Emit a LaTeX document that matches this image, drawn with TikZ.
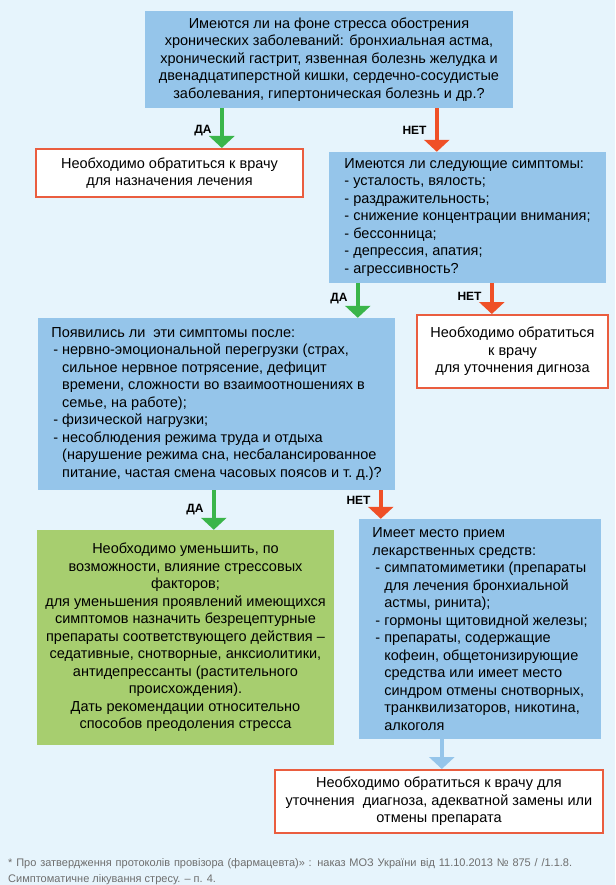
\documentclass[tikz,border=0pt]{standalone}
\usepackage{fontspec}
\setmainfont{Liberation Sans}
\usetikzlibrary{arrows.meta}
\definecolor{bgblue}{HTML}{E6F4FC}
\definecolor{qblue}{HTML}{95C5EA}
\definecolor{ggreen}{HTML}{A7CE6F}
\definecolor{yesgreen}{HTML}{3AB54A}
\definecolor{nored}{HTML}{EF5027}
\definecolor{rborder}{HTML}{EA5D3F}
\definecolor{notegray}{HTML}{6E6E6E}
\newcommand{\boxfont}{\fontsize{14.5}{17.5}\selectfont}
\newcommand{\indt}{\phantom{- }}
\tikzstyle{qbox} = [fill=qblue, inner sep=0pt, align=left, font=\boxfont]
\tikzstyle{gbox} = [fill=ggreen, inner sep=0pt, align=center, font=\boxfont]
\tikzstyle{rbox} = [draw=rborder, line width=2pt, fill=white, inner sep=0pt, align=center, font=\boxfont]
\tikzstyle{yesarrow} = [yesgreen, line width=4.5pt, -{Triangle[width=25pt,length=12pt]}]
\tikzstyle{noarrow} = [nored, line width=4.5pt, -{Triangle[width=25pt,length=12pt]}]
\tikzstyle{thenarrow} = [qblue, line width=4.5pt, -{Triangle[width=25pt,length=12pt]}]
\tikzstyle{lbl} = [black, font=\bfseries\fontsize{12}{13}\selectfont, anchor=east, inner sep=0pt, xshift=-8pt]

\begin{document}
\begin{tikzpicture}[x=1pt,y=-1pt]
\fill[bgblue] (0,0) rectangle (615,885);

% questions
\node[qbox, align=center, minimum width=368pt, minimum height=97pt] (q1) at (329,59.5) {%
    Имеются ли на фоне стресса обострения\\
    хронических заболеваний: бронхиальная астма,\\
    хронический гастрит, язвенная болезнь желудка и\\
    двенадцатиперстной кишки, сердечно-сосудистые\\
    заболевания, гипертоническая болезнь и др.?};
\node[rbox, minimum width=267pt, minimum height=48pt] (r1) at (169.5,173) {%
    Необходимо обратиться к врачу\\
    для назначения лечения};
\node[qbox, minimum width=277pt, minimum height=131pt] (q2) at (467.5,217.5) {%
    Имеются ли следующие симптомы:\\
    - усталость, вялость;\\
    - раздражительность;\\
    - снижение концентрации внимания;\\
    - бессонница;\\
    - депрессия, апатия;\\
    - агрессивность?};
\node[qbox, minimum width=357pt, minimum height=172pt] (q3) at (216.5,404) {%
    Появились ли\ \ эти симптомы после:\\
    \hspace*{2pt}- нервно-эмоциональной перегрузки (страх,\\
    \hspace*{2pt}\indt сильное нервное потрясение, дефицит\\
    \hspace*{2pt}\indt времени, сложности во взаимоотношениях в\\
    \hspace*{2pt}\indt семье, на работе);\\
    \hspace*{2pt}- физической нагрузки;\\
    \hspace*{2pt}- несоблюдения режима труда и отдыха\\
    \hspace*{2pt}\indt (нарушение режима сна, несбалансированное\\
    \hspace*{2pt}\indt питание, частая смена часовых поясов и т.~д.)?};
\node[rbox, minimum width=191pt, minimum height=73pt] (r2) at (512.5,351.5) {%
    Необходимо обратиться\\
    к врачу\\
    для уточнения дигноза};
\node[gbox, minimum width=297pt, minimum height=215pt] (g1) at (185.5,637.5) {%
    Необходимо уменьшить, по\\
    возможности, влияние стрессовых\\
    факторов;\\
    для уменьшения проявлений имеющихся\\
    симптомов назначить безрецептурные\\
    препараты соответствующего действия –\\
    седативные, снотворные, анксиолитики,\\
    антидепрессанты (растительного\\
    происхождения).\\
    Дать рекомендации относительно\\
    способов преодоления стресса};
\node[qbox, minimum width=242pt, minimum height=220pt] (q4) at (480,629) {%
    Имеет место прием\\
    лекарственных средств:\\
    \hspace*{3pt}- симпатомиметики (препараты\\
    \hspace*{3pt}\indt для лечения бронхиальной\\
    \hspace*{3pt}\indt астмы, ринита);\\
    \hspace*{3pt}- гормоны щитовидной железы;\\
    \hspace*{3pt}- препараты, содержащие\\
    \hspace*{3pt}\indt кофеин, общетонизирующие\\
    \hspace*{3pt}\indt средства или имеет место\\
    \hspace*{3pt}\indt синдром отмены снотворных,\\
    \hspace*{3pt}\indt транквилизаторов, никотина,\\
    \hspace*{3pt}\indt алкоголя};
\node[rbox, minimum width=328pt, minimum height=63pt] (r3) at (439,801.5) {%
    Необходимо обратиться к врачу для\\
    уточнения\ \ диагноза, адекватной замены или\\
    отмены препарата};

% answers
\draw[yesarrow] ([xshift=77pt]q1.south west) coordinate (a1) -- (a1 |- r1.north)
    node[lbl, pos=0.56] {ДА};
\draw[noarrow] ([xshift=292pt]q1.south west) coordinate (a2) -- (a2 |- q2.north)
    node[lbl, pos=0.52] {НЕТ};
\draw[yesarrow] ([xshift=29pt]q2.south west) coordinate (a3) -- (a3 |- q3.north)
    node[lbl, pos=0.43] {ДА};
\draw[noarrow] ([xshift=163pt]q2.south west) coordinate (a4) -- (a4 |- r2.north)
    node[lbl, pos=0.44] {НЕТ};
\draw[yesarrow] ([xshift=176pt]q3.south west) coordinate (a5) -- (a5 |- g1.north)
    node[lbl, pos=0.5] {ДА};
\draw[noarrow] ([xshift=343pt]q3.south west) coordinate (a6) -- (a6 |- q4.north)
    node[lbl, pos=0.34] {НЕТ};
\draw[thenarrow] ([xshift=83pt]q4.south west) coordinate (a7) -- (a7 |- r3.north);

\node[notegray, anchor=north west, align=left, inner sep=0pt,
    font=\fontsize{11}{16}\selectfont] (note) at (8,858) {%
    \makebox[564pt][s]{* Про затвердження протоколів провізора (фармацевта)» : наказ МОЗ України від 11.10.2013 № 875 / /1.1.8.}\\
    Симптоматичне лікування стресу. – п. 4.};
\end{tikzpicture}
\end{document}
